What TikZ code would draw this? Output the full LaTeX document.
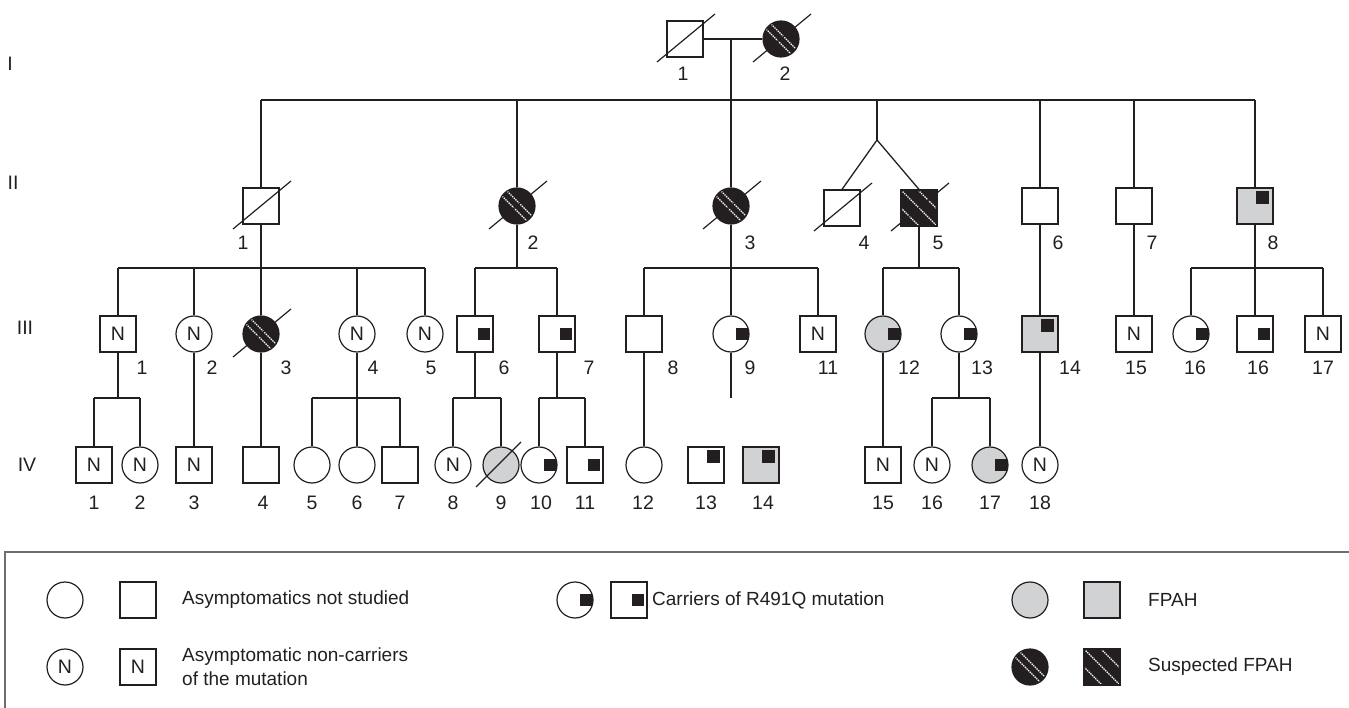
\documentclass[tikz,border=0pt]{standalone}
\usepackage{fontspec}
\setmainfont{Liberation Sans}
\usetikzlibrary{calc}
\definecolor{ink}{HTML}{231F20}
\definecolor{fpah}{HTML}{D1D2D4}
\definecolor{frame}{HTML}{6D6E70}

\begin{document}
\begin{tikzpicture}[x=1pt,y=-1pt,
  every node/.style={font=\fontsize{19.5}{22}\selectfont, text=ink},
  ind/.style={draw=ink, line width=1.2pt, fill=white, inner sep=0pt, minimum size=36pt},
  male/.style={ind, rectangle},
  female/.style={ind, circle},
  fpahfill/.style={fill=fpah},
  stripe/.style={white, line width=1.2pt, dash pattern=on 1.4pt off 0.9pt},
  suspm/.style={fill=ink, path picture={
      \foreach \s in {-18,0,17}{
        \draw[stripe] ($(path picture bounding box.north west)+(\s*1pt,0pt)$)
                   -- ($(path picture bounding box.south east)+(\s*1pt,0pt)$);}}},
  suspf/.style={fill=ink, path picture={
      \foreach \s in {-5,5}{
        \draw[stripe] ($(path picture bounding box.north west)+(\s*1pt,0pt)$)
                   -- ($(path picture bounding box.south east)+(\s*1pt,0pt)$);}}},
  markmid/.style={path picture={\fill[ink]
      ($(path picture bounding box.center)+(3pt,-6pt)$) rectangle
      ($(path picture bounding box.center)+(15pt,6pt)$);}},
  markcorner/.style={path picture={\fill[ink]
      ($(path picture bounding box.center)+(1pt,2pt)$) rectangle
      ($(path picture bounding box.center)+(14pt,15pt)$);}},
  markcirc/.style={path picture={\fill[ink]
      ($(path picture bounding box.center)+(5pt,-6pt)$) rectangle
      ($(path picture bounding box.center)+(20pt,6pt)$);}},
  link/.style={draw=ink, line width=1.3pt},
  slash/.style={draw=ink, line width=1.2pt},
  num/.style={inner sep=0pt},
  gen/.style={inner sep=0pt},
  keytext/.style={anchor=west, inner sep=0pt, align=left,
                  font=\fontsize{19}{24}\selectfont},
]
\useasboundingbox (0,0) rectangle (1349,708);

% generation labels
\node[gen] (gI)   at (10,64)  {I};
\node[gen] (gII)  at (13,183) {II};
\node[gen] (gIII) at (25,328) {III};
\node[gen] (gIV)  at (27,465) {IV};

% ---------- generation I ----------
\node[male] (I1) at (685,39) {};
\node[female, suspf] (I2) at (781,39) {};
\node[num] at (683,74) {1};
\node[num] at (785,74) {2};

% ---------- generation II ----------
\node[male] (II1) at (261,206) {};
\node[female, suspf] (II2) at (517,206) {};
\node[female, suspf] (II3) at (731,206) {};
\node[male] (II4) at (842,208) {};
\node[male, suspm] (II5) at (919,208) {};
\node[male] (II6) at (1040,206) {};
\node[male] (II7) at (1134,206) {};
\node[male, fpahfill, markcorner] (II8) at (1255,206) {};
\node[num] at (243,243) {1};
\node[num] at (533,243) {2};
\node[num] at (750,243) {3};
\node[num] at (864,243) {4};
\node[num] at (938,243) {5};
\node[num] at (1058,243) {6};
\node[num] at (1152,243) {7};
\node[num] at (1273,243) {8};

% ---------- generation III ----------
\node[male] (III1) at (118,334) {N};
\node[female] (III2) at (194,334) {N};
\node[female, suspf] (III3) at (261,334) {};
\node[female] (III4) at (357,334) {N};
\node[female] (III5) at (425,334) {N};
\node[male, markmid] (III6) at (475,334) {};
\node[male, markmid] (III7) at (557,334) {};
\node[male] (III8) at (644,334) {};
\node[female, markcirc] (III9) at (731,334) {};
\node[male] (III11) at (818,334) {N};
\node[female, fpahfill, markcirc] (III12) at (883,334) {};
\node[female, markcirc] (III13) at (959,334) {};
\node[male, fpahfill, markcorner] (III14) at (1040,334) {};
\node[male] (III15) at (1134,334) {N};
\node[female, markcirc] (III16a) at (1191,334) {};
\node[male, markmid] (III16b) at (1255,334) {};
\node[male] (III17) at (1323,334) {N};
\node[num] at (142,368) {1};
\node[num] at (212,368) {2};
\node[num] at (286,368) {3};
\node[num] at (373,368) {4};
\node[num] at (431,368) {5};
\node[num] at (504,368) {6};
\node[num] at (589,368) {7};
\node[num] at (673,368) {8};
\node[num] at (750,368) {9};
\node[num] at (828,368) {11};
\node[num] at (909,368) {12};
\node[num] at (982,368) {13};
\node[num] at (1070,368) {14};
\node[num] at (1136,368) {15};
\node[num] at (1195,368) {16};
\node[num] at (1258,368) {16};
\node[num] at (1323,368) {17};

% ---------- generation IV ----------
\node[male] (IV1) at (94,465) {N};
\node[female] (IV2) at (140,465) {N};
\node[male] (IV3) at (194,465) {N};
\node[male] (IV4) at (261,465) {};
\node[female] (IV5) at (312,465) {};
\node[female] (IV6) at (357,465) {};
\node[male] (IV7) at (400,465) {};
\node[female] (IV8) at (453,465) {N};
\node[female, fpahfill] (IV9) at (501,465) {};
\node[female, markcirc] (IV10) at (539,465) {};
\node[male, markmid] (IV11) at (585,465) {};
\node[female] (IV12) at (644,465) {};
\node[male, markcorner] (IV13) at (706,465) {};
\node[male, fpahfill, markcorner] (IV14) at (761,465) {};
\node[male] (IV15) at (883,465) {N};
\node[female] (IV16) at (932,465) {N};
\node[female, fpahfill, markcirc] (IV17) at (990,465) {};
\node[female] (IV18) at (1040,465) {N};
\foreach \x/\t in {94/1,140/2,194/3,263/4,312/5,357/6,400/7,453/8,501/9,541/10,
                   585/11,643/12,706/13,763/14,883/15,932/16,990/17,1040/18}
  \node[num] at (\x,503) {\t};

% ---------- deceased marks ----------
\foreach \n in {I1,I2,II1,II2,II3,II4,II5,III3}
  \draw[slash] ($(\n)+(-28,23)$) -- ($(\n)+(30,-25)$);
\draw[slash] ($(IV9)+(-25,22)$) -- ($(IV9)+(20,-23)$);

% ---------- lines of descent ----------
\coordinate (mI) at (731,39);
\coordinate (sII) at (731,100);
\coordinate (tw) at (877,140);
\coordinate (sIII) at (0,268);
\coordinate (sIV) at (0,398);

\draw[link] (I1.east) -- (I2.west);
\draw[link] (mI) -- (sII);
\draw[link] (II1.north |- sII) -- (II8.north |- sII);
\foreach \n in {II1,II2,II3,II6,II7,II8}
  \draw[link] (\n.north) -- (\n.north |- sII);
\draw[link] (tw |- sII) -- (tw);
\draw[link] (II4.north) -- (tw) -- (II5.north);

% children of II
\foreach \n in {II1,II2,II3,II5,II8}
  \draw[link] (\n.south) -- (\n.south |- sIII);
\draw[link] (III1.north |- sIII) -- (III5.north |- sIII);
\draw[link] (III6.north |- sIII) -- (III7.north |- sIII);
\draw[link] (III8.north |- sIII) -- (III11.north |- sIII);
\draw[link] (III12.north |- sIII) -- (III13.north |- sIII);
\draw[link] (III16a.north |- sIII) -- (III17.north |- sIII);
\foreach \n in {III1,III2,III3,III4,III5,III6,III7,III8,III9,III11,III12,III13,III16a,III16b,III17}
  \draw[link] (\n.north) -- (\n.north |- sIII);
\draw[link] (II6.south) -- (III14.north);
\draw[link] (II7.south) -- (III15.north);

% children of III
\foreach \n in {III1,III4,III6,III7,III13}
  \draw[link] (\n.south) -- (\n.south |- sIV);
\draw[link] (IV1.north |- sIV) -- (IV2.north |- sIV);
\draw[link] (IV5.north |- sIV) -- (IV7.north |- sIV);
\draw[link] (IV8.north |- sIV) -- (IV9.north |- sIV);
\draw[link] (IV10.north |- sIV) -- (IV11.north |- sIV);
\draw[link] (IV16.north |- sIV) -- (IV17.north |- sIV);
\foreach \n in {IV1,IV2,IV5,IV6,IV7,IV8,IV9,IV10,IV11,IV16,IV17}
  \draw[link] (\n.north) -- (\n.north |- sIV);
\draw[link] (III2.south) -- (IV3.north);
\draw[link] (III3.south) -- (IV4.north);
\draw[link] (III8.south) -- (IV12.north);
\coordinate (III9end) at (731,398);
\draw[link] (III9.south) -- (III9end);
\draw[link] (III12.south) -- (IV15.north);
\draw[link] (III14.south) -- (IV18.north);

% ---------- key ----------
\draw[frame, line width=1.5pt] (5,552) rectangle (1400,760);
\node[female] (kf1) at (65,600) {};
\node[male]   (km1) at (138,600) {};
\node[female] (kf2) at (65,667) {N};
\node[male]   (km2) at (138,667) {N};
\node[female, markcirc] (kf3) at (575,600) {};
\node[male, markmid]    (km3) at (629,600) {};
\node[female, fpahfill] (kf4) at (1030,600) {};
\node[male, fpahfill]   (km4) at (1102,600) {};
\node[female, suspf]    (kf5) at (1030,667) {};
\node[male, suspm]      (km5) at (1102,667) {};
\node[keytext] (k1) at (182,600) {Asymptomatics not studied};
\node[keytext] (k2) at (182,667) {Asymptomatic non-carriers\\of the mutation};
\node[keytext] (k3) at (652,600) {Carriers of R491Q mutation};
\node[keytext] (k4) at (1148,600) {FPAH};
\node[keytext] (k5) at (1148,667) {Suspected FPAH};
\end{tikzpicture}
\end{document}
